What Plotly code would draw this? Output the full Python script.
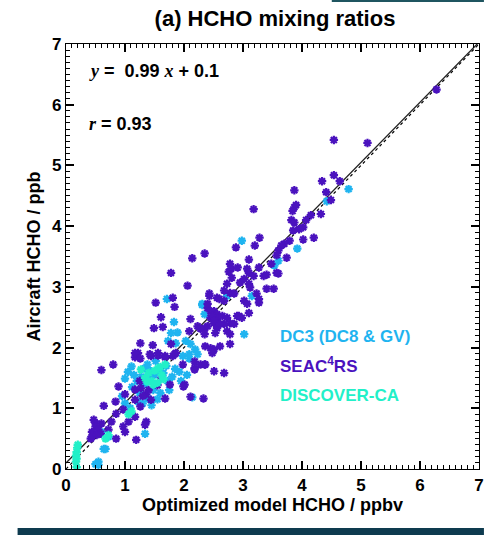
import plotly.graph_objects as go

# ---- data ----
seac_x = [6.28, 4.54, 5.11, 4.54, 4.34, 4.64, 3.87, 4.41, 3.18, 3.87, 3.90, 3.84, 4.49, 4.32, 4.15, 4.07, 3.82, 3.87, 4.02, 3.95, 3.85,
          3.28, 3.20, 2.88, 2.35, 3.79, 3.70, 3.65, 4.02, 4.20, 3.60, 3.74, 3.10, 2.78, 2.80, 2.76, 2.91, 3.07, 3.10, 3.27, 3.57, 3.48,
          3.57, 3.60, 3.35, 3.40, 3.18, 3.02, 2.95, 3.10, 3.12, 2.81, 2.73, 2.68, 3.40, 3.52, 2.78, 2.85, 2.43, 2.56, 3.23, 3.27, 3.02,
          3.07, 3.27, 3.10, 2.40, 2.51, 2.56, 2.45, 2.56, 2.65, 2.73, 2.78, 2.90, 2.85, 2.68, 2.51, 2.40, 2.35,
          2.14, 1.78, 2.06, 1.81, 1.84, 1.52, 1.61, 2.11, 2.43, 2.40, 2.45, 2.48, 2.60, 2.68, 1.49, 1.64, 2.09, 2.23, 2.28, 2.35, 2.51,
          2.56, 2.53, 2.61, 2.73, 2.78, 2.93, 2.98, 2.78, 1.26, 1.47, 1.22, 1.78, 2.36, 2.45, 2.51, 2.61, 1.42, 1.56, 1.68, 1.17, 0.80,
          0.60, 1.84, 1.98, 2.18, 2.35, 2.51, 2.68,
          1.17, 1.26, 1.44, 1.56, 1.68, 1.81, 1.86, 2.18, 2.28, 2.36, 2.48, 2.18, 2.01, 1.76, 1.68, 1.99, 2.11, 2.33,
          0.89, 1.00, 1.17, 1.27, 0.64, 0.84, 0.85, 0.97, 1.17, 1.26, 1.44, 1.36,
          1.17, 1.36, 1.34, 1.06, 0.97, 0.77, 0.60, 0.47, 0.50, 0.50, 0.44, 0.42, 0.55, 0.59, 0.72, 0.85, 1.00, 1.19, 0.44, 0.52,
          1.25, 1.40, 1.55, 1.62, 1.30]
seac_y = [6.25, 5.42, 5.37, 4.84, 4.74, 4.74, 4.59, 4.56, 4.28, 4.31, 4.35, 4.25, 4.43, 4.20, 4.18, 4.10, 4.10, 4.06, 3.98, 3.95, 3.93,
          3.81, 3.68, 3.65, 3.55, 3.76, 3.71, 3.68, 3.78, 3.81, 3.60, 3.48, 3.45, 3.38, 3.30, 3.25, 3.32, 3.30, 3.23, 3.32, 3.52, 3.38,
          3.23, 3.22, 3.18, 3.20, 3.18, 3.13, 3.07, 3.05, 2.99, 3.15, 3.05, 2.94, 2.97, 2.97, 2.90, 2.89, 2.89, 2.82, 2.89, 2.80, 2.77,
          2.72, 2.74, 2.57, 2.65, 2.60, 2.55, 2.49, 2.47, 2.52, 2.49, 2.40, 2.52, 2.39, 2.39, 2.40, 2.35, 2.32,
          3.47, 3.23, 3.02, 2.82, 2.67, 2.74, 2.50, 2.47, 2.85, 2.72, 2.60, 2.52, 2.80, 2.77, 2.32, 2.34, 2.27, 2.35, 2.31, 2.22, 2.44,
          2.32, 2.24, 2.39, 2.27, 2.22, 2.52, 2.49, 2.06, 2.07, 2.04, 1.91, 2.06, 2.02, 1.99, 1.97, 2.02, 1.89, 1.87, 1.84, 1.84, 1.72,
          1.63, 1.89, 1.72, 1.66, 1.72, 1.61, 1.58,
          1.91, 1.82, 1.86, 1.91, 1.86, 1.86, 1.91, 1.77, 1.72, 1.72, 1.91, 1.64, 1.39, 1.39, 1.16, 1.36, 1.19, 1.16,
          1.36, 1.23, 1.31, 1.33, 1.04, 1.11, 0.91, 0.98, 1.14, 1.03, 1.14, 1.23,
          0.86, 0.78, 0.73, 0.78, 0.70, 0.78, 0.75, 0.81, 0.75, 0.70, 0.61, 0.50, 0.65, 0.58, 0.65, 0.50, 0.61, 0.48, 0.53, 0.56,
          1.45, 1.30, 1.38, 1.50, 1.20]

dc3_x = [4.79, 4.42, 2.98, 3.92, 3.60, 3.53, 3.15, 2.73, 2.31, 2.35, 1.71, 2.31, 1.83, 1.89, 1.78, 3.02, 1.73, 1.86, 2.03, 2.11,
         2.19, 2.09, 2.23, 1.11, 1.34, 1.44, 1.00, 1.98, 2.09, 2.14, 1.00, 1.09, 1.22, 1.39,
         1.34, 0.72, 0.60, 0.67, 0.55, 0.50, 0.55, 0.64,
         1.05, 1.15, 1.20, 1.28, 1.35, 1.42, 1.50, 1.58, 1.65, 1.72, 1.80, 1.85, 1.92, 1.25, 1.48, 1.60, 1.75, 1.12, 1.38, 1.52,
         1.70, 1.95, 2.05, 1.30, 1.45, 0.95, 1.55]
dc3_y = [4.61, 4.41, 3.76, 3.63, 3.43, 3.35, 2.85, 2.85, 2.72, 2.55, 2.80, 2.70, 2.42, 2.25, 2.24, 2.22, 2.11, 2.07, 2.11, 2.06,
         1.97, 1.82, 1.89, 1.69, 1.66, 1.61, 1.49, 1.86, 1.89, 1.18, 1.08, 1.00, 1.11, 1.16,
         0.58, 0.53, 0.61, 0.33, 0.12, 0.08, 0.07, 0.33,
         1.60, 1.55, 1.45, 1.52, 1.40, 1.48, 1.55, 1.62, 1.58, 1.45, 1.52, 1.65, 1.60, 1.25, 1.30, 1.25, 1.30, 1.35, 1.72, 1.78,
         1.70, 1.45, 1.55, 1.08, 1.05, 1.20, 1.15]

disc_x = [1.27, 1.56, 1.68, 1.34, 1.45, 1.55, 1.62, 1.40, 1.50, 1.60, 1.48, 1.38, 1.65, 1.06, 1.11, 0.67, 0.72,
          0.18, 0.18, 0.17, 0.18, 0.17, 0.19, 0.20]
disc_y = [1.64, 1.66, 1.72, 1.50, 1.45, 1.42, 1.55, 1.58, 1.62, 1.68, 1.39, 1.44, 1.48, 0.90, 0.95, 0.50, 0.56,
          0.28, 0.17, 0.12, 0.03, 0.22, 0.35, 0.40]

fit_slope = 0.99
fit_intercept = 0.1
line_x = [0, 7]
series_names = ["DC3 (DC8 & GV)", "SEAC<sup>4</sup>RS", "DISCOVER-CA"]
series_colors = ["#1FB4F0", "#4A12BE", "#22F0C8"]

fig = go.Figure()

# 1:1 dotted line and regression line
fig.add_trace(go.Scatter(x=line_x, y=line_x, mode="lines",
                         line=dict(color="black", width=1.2, dash="dot"), showlegend=False))
fig.add_trace(go.Scatter(x=line_x, y=[fit_slope * v + fit_intercept for v in line_x], mode="lines",
                         line=dict(color="#222222", width=1.3), showlegend=False))

for xs, ys, nm, col in [(dc3_x, dc3_y, series_names[0], series_colors[0]),
                        (seac_x, seac_y, series_names[1], series_colors[1]),
                        (disc_x, disc_y, series_names[2], series_colors[2])]:
    fig.add_trace(go.Scatter(x=xs, y=ys, mode="markers", name=nm, showlegend=False,
                             marker=dict(symbol="asterisk-open", size=7, color=col,
                                         line=dict(color=col, width=2.2))))

axis_common = dict(range=[0, 7], tick0=0, dtick=1, ticks="inside", ticklen=8, tickwidth=1.5,
                   tickcolor="#000000", mirror="allticks", showline=True, linecolor="black", linewidth=1.3,
                   showgrid=False, zeroline=False,
                   minor=dict(ticks="inside", ticklen=4, tickwidth=1, tickcolor="#000000", dtick=0.1),
                   tickfont=dict(family="Liberation Sans", size=17, color="black", weight="bold"),
                   title_font=dict(family="Liberation Sans", size=18, color="black", weight="bold"))

fig.update_layout(
    xaxis=dict(**axis_common, title_text="Optimized model HCHO / ppbv", title_standoff=4),
    yaxis=dict(**axis_common, title_text="Aircraft HCHO / ppb", title_standoff=6),
)

ser = "<span style='font-family:Liberation Serif'><i>%s</i></span>"
fig.add_annotation(x=0.35, y=6.55, xref="x", yref="y", xanchor="left", showarrow=False,
                   text=(ser % "y") + " =  0.99 " + (ser % "x") + " + 0.1",
                   font=dict(family="Liberation Sans", size=18, color="black", weight="bold"))
fig.add_annotation(x=0.35, y=5.69, xref="x", yref="y", xanchor="left", showarrow=False,
                   text=(ser % "r") + " = 0.93",
                   font=dict(family="Liberation Sans", size=18, color="black", weight="bold"))
for i, yy in enumerate([2.19, 1.71, 1.21]):
    fig.add_annotation(x=3.6, y=yy, xref="x", yref="y", xanchor="left", showarrow=False,
                       text=series_names[i],
                       font=dict(family="Liberation Sans", size=17, color=series_colors[i], weight="bold"))

# decorative slide bars
fig.add_shape(type="rect", xref="paper", yref="paper", x0=(335 - 66) / 418, x1=(489 - 66) / 418,
              y0=(469 - 2) / 425, y1=(469 + 0) / 425, fillcolor="#1F5560", line_width=0, layer="above")
fig.add_shape(type="rect", xref="paper", yref="paper", x0=(17 - 66) / 418, x1=(489 - 66) / 418,
              y0=(469 - 535) / 425, y1=(469 - 528) / 425, fillcolor="#0E3B4F", line_width=0, layer="above")

fig.update_layout(
    width=489, height=535,
    margin=dict(l=66, r=5, t=44, b=66),
    paper_bgcolor="white", plot_bgcolor="white",
    title=dict(text="(a) HCHO mixing ratios", x=275 / 489, xanchor="center", y=1 - 18 / 535, yanchor="middle",
               font=dict(family="Liberation Sans", size=22, color="black", weight="bold")),
)

fig.write_html("out.html")
